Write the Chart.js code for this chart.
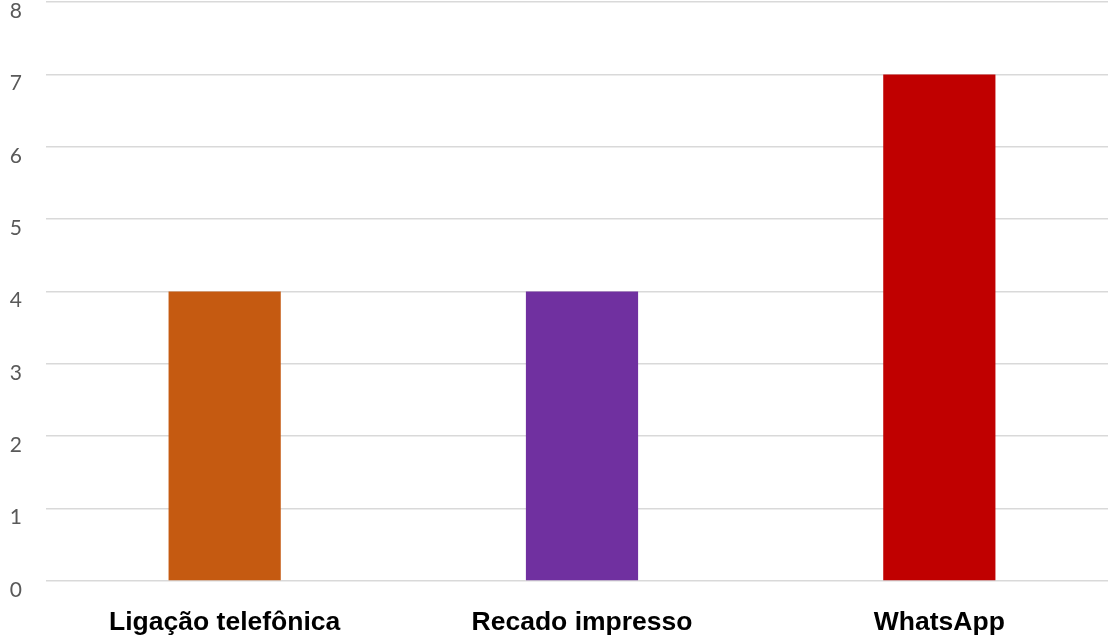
<!DOCTYPE html>
<html>
<head>
<meta charset="utf-8">
<script src="https://cdn.jsdelivr.net/npm/chart.js@4/dist/chart.umd.min.js"></script>
<style>
  html, body { margin: 0; padding: 0; background: #fff; overflow: hidden; }
  #wrap { position: relative; width: 1118px; height: 635px; }
</style>
</head>
<body>
<div id="wrap"><canvas id="c"></canvas></div>
<script>
const categories = ['Ligação telefônica', 'Recado impresso', 'WhatsApp'];
const values = [4, 4, 7];
const barColors = ['#C55A11', '#7030A0', '#C00000'];
const yTicks = [0, 1, 2, 3, 4, 5, 6, 7, 8];

const labelShift = {
  id: 'labelShift',
  afterUpdate(chart) {
    const s = chart.scales.y;
    if (s && !s._shifted) {
      const orig = s.drawLabels.bind(s);
      s._computeLabelArea = function () { return undefined; };
      s.drawLabels = function (area) {
        const ctx = this.ctx;
        ctx.save();
        ctx.translate(0, 9);
        orig(area);
        ctx.restore();
      };
      s._shifted = true;
    }
  }
};

new Chart(document.getElementById('c'), {
  type: 'bar',
  data: {
    labels: categories,
    datasets: [{
      data: values,
      backgroundColor: barColors,
      borderWidth: 0,
      categoryPercentage: 1,
      barPercentage: 0.314
    }]
  },
  options: {
    responsive: true,
    maintainAspectRatio: false,
    animation: false,
    layout: { padding: { top: 2, left: 0, right: 0, bottom: 0 } },
    plugins: { legend: { display: false }, tooltip: { enabled: false } },
    scales: {
      x: {
        grid: { display: false, drawTicks: false },
        border: { display: false },
        ticks: {
          color: '#000',
          font: { family: '"Liberation Sans", Arial, sans-serif', size: 26.5, weight: 'bold' },
          padding: 26,
          maxRotation: 0,
          autoSkip: false
        },
        afterFit(scale) { scale.height = 54; scale.paddingLeft = 0; scale.paddingRight = 0; }
      },
      y: {
        min: 0,
        max: 8,
        afterBuildTicks(scale) { scale.ticks = yTicks.map(v => ({ value: v })); },
        grid: { color: '#D9D9D9', lineWidth: 1.6, drawTicks: false },
        border: { display: false },
        ticks: {
          color: '#595959',
          font: { family: 'Lato, "Open Sans", sans-serif', size: 21 },
          padding: 24
        },
        afterFit(scale) { scale.width = 46; scale.paddingTop = 0; scale.paddingBottom = 0; }
      }
    }
  },
  plugins: [labelShift]
});
</script>
</body>
</html>
